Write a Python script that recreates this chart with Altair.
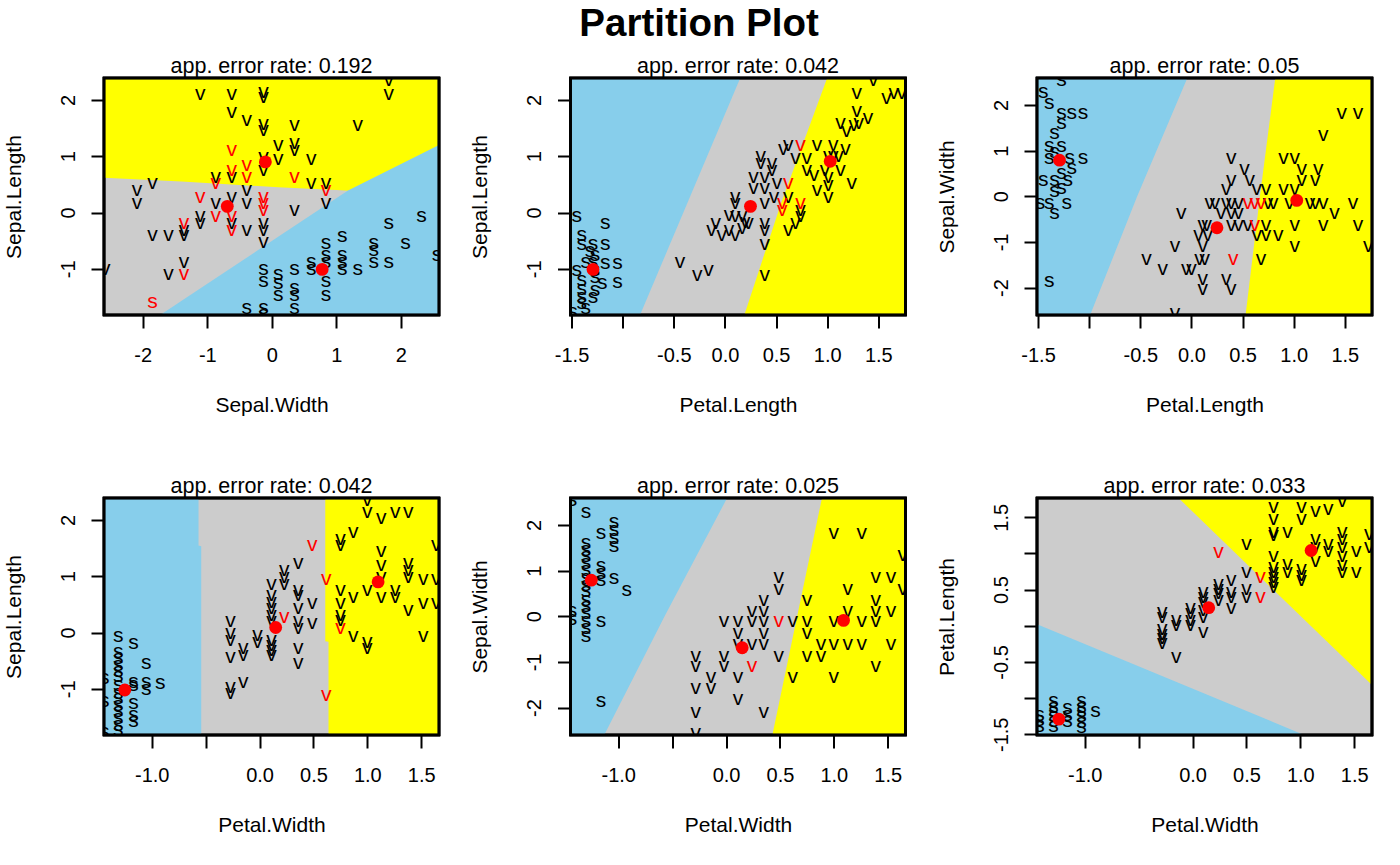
import altair as alt
import pandas as pd

FONT = "Liberation Sans"
SKY = "#87CEEB"
GREY = "#CCCCCC"
YEL = "#FFFF00"
RED = "#FF0000"

# ---------------- Panel 1 : Sepal.Width (x) vs Sepal.Length (y)
p1_s = [(-0.39,-1.69),(-0.13,-1.69),(-0.13,-1.81),(0.35,-1.69),(-0.13,-1.00),(-0.13,-1.22),(0.10,-1.10),
        (0.10,-1.25),(0.10,-1.46),(0.35,-1.00),(0.35,-1.34),(0.35,-1.46),(0.61,-0.87),(0.61,-1.00),
        (0.84,-0.54),(0.84,-0.75),(0.84,-0.87),(0.84,-1.22),(0.84,-1.46),(1.09,-0.41),(1.09,-0.75),
        (1.09,-0.87),(1.09,-1.00),(1.33,-1.00),(1.58,-0.54),(1.58,-0.66),(1.58,-0.87),(1.81,-0.19),
        (1.81,-0.87),(2.07,-0.54),(2.32,-0.07),(2.56,-0.75)]
p1_v = [(-1.11,2.11),(-0.62,2.11),(-0.13,2.14),(-0.13,2.05),(-0.62,1.79),(-0.39,1.65),(-0.13,1.58),
        (-0.13,1.46),(0.35,1.55),(1.33,1.55),(1.81,2.35),(1.81,2.11),(0.10,1.20),(0.35,1.23),(0.35,1.11),
        (0.61,0.96),(0.10,0.96),(-0.13,0.98),(-0.13,0.76),(-0.87,0.64),(-0.62,0.64),(0.61,0.52),(0.84,0.52),
        (0.35,0.05),(0.84,0.17),(-2.09,0.40),(-2.09,0.17),(-1.85,0.52),(-0.62,0.28),(-0.87,0.17),(-0.39,0.17),
        (-0.39,0.40),(-1.11,-0.07),(-1.11,-0.19),(-0.62,-0.19),(-0.39,-0.31),(-0.13,-0.19),(-0.13,-0.31),
        (-0.13,-0.53),(-1.85,-0.40),(-1.60,-0.40),(-1.36,-0.40),(-1.36,-0.31),(-1.36,-0.87),(-1.60,-1.10),
        (-2.58,-1.00)]
p1_s_err = [(-1.85,-1.59)]
p1_v_err = [(-0.62,1.11),(-0.62,0.76),(-0.39,0.84),(-0.39,0.64),(-0.87,0.52),(-1.11,0.28),(-0.87,-0.07),
            (-0.62,-0.07),(-0.62,-0.31),(-0.13,0.28),(-0.13,0.17),(-0.13,0.05),(0.35,0.64),(0.84,0.40),
            (-1.36,-0.19),(-1.36,-1.10)]
p1_centers = [(-0.10,0.90),(-0.69,0.11),(0.78,-1.01)]
p1_blue = [(-1.73,-1.82),(1.18,0.39),(2.59,1.20)]            # (x, upper edge of blue)
p1_yellow = [(-2.60,0.62),(-1.40,0.55),(0.10,0.45),(1.00,0.40),(2.59,0.30)]  # (x, lower edge of yellow)

# ---------------- Panel 2 : Petal.Length (x) vs Sepal.Length (y)
p2_s = [(-1.45,-0.07),(-1.17,-0.19),(-1.40,-0.40),(-1.40,-0.55),(-1.29,-0.55),(-1.17,-0.55),(-1.32,-0.69),
        (-1.27,-0.75),(-1.36,-0.87),(-1.29,-0.87),(-1.17,-0.89),(-1.05,-0.89),(-1.45,-1.02),(-1.27,-1.02),
        (-1.40,-1.20),(-1.27,-1.14),(-1.20,-1.26),(-1.05,-1.23),(-1.40,-1.35),(-1.27,-1.38),(-1.40,-1.50),
        (-1.29,-1.50),(-1.40,-1.61),(-1.36,-1.70),(-1.49,-1.76)]
p2_v = [(1.45,2.36),(1.29,2.12),(1.58,2.04),(1.65,2.12),(1.73,2.12),(1.29,1.80),(1.40,1.68),(1.13,1.59),
        (1.19,1.44),(1.26,1.56),(1.31,1.59),(0.57,1.12),(0.62,1.20),(0.90,1.20),(1.06,1.20),(1.18,1.12),
        (0.69,0.97),(0.80,0.97),(1.01,1.00),(1.06,1.00),(1.11,1.00),(0.35,1.00),(0.35,0.88),(0.46,0.88),
        (0.46,0.76),(0.80,0.76),(0.87,0.67),(0.98,0.76),(1.01,0.64),(1.13,0.76),(1.24,0.52),(1.01,0.49),
        (0.90,0.40),(1.01,0.28),(0.28,0.64),(0.39,0.64),(0.28,0.43),(0.39,0.43),(0.51,0.52),(0.48,0.28),
        (0.39,0.17),(0.62,0.28),(0.74,0.05),(0.74,-0.07),(0.10,0.28),(0.10,0.17),(0.04,-0.04),(0.10,-0.07),
        (0.17,-0.07),(0.20,-0.16),(0.23,-0.19),(0.17,-0.28),(-0.09,-0.19),(-0.13,-0.31),(-0.03,-0.40),
        (0.10,-0.40),(0.04,-0.31),(0.39,-0.19),(0.39,-0.31),(0.39,-0.55),(0.62,-0.31),(0.69,-0.19),
        (-0.44,-0.87),(-0.27,-1.11),(-0.16,-1.02),(0.39,-1.11)]
p2_s_err = []
p2_v_err = [(0.74,1.20),(0.62,0.52),(0.56,0.17),(0.56,0.05),(0.74,0.17)]
p2_centers = [(-1.29,-1.01),(0.25,0.11),(1.03,0.91)]
p2_blue = [(-1.82,-0.83),(2.39,0.15)]                  # (y, right edge of blue)
p2_yellow = [(-1.82,0.19),(0.17,0.55),(2.39,1.00)]     # (y, left edge of yellow)

# ---------------- Panel 3 : Petal.Length (x) vs Sepal.Width (y)
p3_s = [(-1.27,2.55),(-1.45,2.29),(-1.39,2.04),(-1.27,1.82),(-1.17,1.82),(-1.06,1.82),(-1.27,1.60),
        (-1.34,1.38),(-1.39,1.09),(-1.27,1.09),(-1.34,0.98),(-1.39,0.84),(-1.19,0.84),(-1.06,0.84),
        (-1.17,0.62),(-1.27,0.51),(-1.45,0.36),(-1.34,0.36),(-1.21,0.36),(-1.27,0.18),(-1.34,0.11),
        (-1.48,-0.15),(-1.39,-0.15),(-1.22,-0.15),(-1.34,-0.36),(-1.39,-1.86)]
p3_v = [(1.47,1.82),(1.63,1.82),(1.29,1.35),(0.90,0.84),(1.01,0.84),(1.08,0.60),(1.24,0.60),(1.08,0.36),
        (1.21,0.36),(0.39,0.84),(0.52,0.60),(0.39,0.36),(0.57,0.36),(0.34,0.15),(0.64,0.15),(0.73,0.15),
        (0.90,0.15),(1.01,0.15),(0.18,-0.15),(0.23,-0.15),(0.34,-0.15),(0.39,-0.15),(0.46,-0.15),
        (0.75,-0.15),(0.80,-0.15),(0.96,-0.15),(1.16,-0.15),(1.21,-0.15),(1.29,-0.15),(1.58,-0.15),
        (0.29,-0.36),(0.39,-0.36),(0.46,-0.36),(1.40,-0.36),(-0.10,-0.36),(0.11,-0.62),(0.15,-0.62),
        (0.39,-0.62),(0.46,-0.62),(0.55,-0.62),(0.73,-0.62),(1.01,-0.62),(1.29,-0.62),(1.63,-0.62),
        (0.07,-0.84),(0.16,-0.84),(0.64,-0.84),(0.73,-0.84),(0.85,-0.84),(-0.16,-1.09),(0.11,-1.09),
        (1.01,-1.09),(1.73,-1.09),(-0.44,-1.37),(0.08,-1.37),(0.13,-1.37),(0.68,-1.37),(-0.28,-1.60),
        (-0.05,-1.60),(0.00,-1.60),(0.11,-1.82),(0.34,-1.82),(0.11,-2.04),(0.39,-2.04),(-0.16,-2.55)]
p3_s_err = []
p3_v_err = [(0.55,-0.15),(0.62,-0.15),(0.68,-0.15),(0.62,-0.62),(0.41,-1.37)]
p3_centers = [(-1.29,0.79),(0.25,-0.69),(1.03,-0.09)]
p3_blue = [(-2.60,-0.99),(0.00,-0.53),(2.59,-0.04)]
p3_yellow = [(-2.60,0.53),(0.00,0.67),(2.59,0.82)]

# ---------------- Panel 4 : Petal.Width (x) vs Sepal.Length (y)
p4_s = [(-1.31,-0.07),(-1.17,-0.19),(-1.31,-0.34),(-1.31,-0.46),(-1.31,-0.57),(-1.05,-0.54),(-1.31,-0.69),
        (-1.31,-0.78),(-1.17,-0.87),(-1.05,-0.87),(-0.92,-0.90),(-1.05,-1.00),(-1.44,-0.81),(-1.31,-0.93),
        (-1.17,-0.93),(-1.31,-1.08),(-1.17,-1.25),(-1.31,-1.16),(-1.31,-1.28),(-1.31,-1.40),(-1.17,-1.46),
        (-1.31,-1.52),(-1.17,-1.58),(-1.31,-1.64),(-1.31,-1.73),(-1.44,-1.22),(-1.44,-1.76)]
p4_v = [(-0.27,0.20),(-0.27,-0.01),(-0.27,-0.13),(-0.27,-0.43),(-0.27,-0.96),(-0.27,-1.08),
        (-0.15,-0.28),(-0.15,-0.40),(-0.15,-0.87),(-0.02,-0.04),(-0.02,-0.16),
        (0.11,0.87),(0.11,0.67),(0.11,0.55),(0.11,0.43),(0.11,0.31),(0.11,0.20),(0.11,-0.13),(0.11,-0.22),
        (0.11,-0.31),(0.11,-0.40),(0.23,1.11),(0.23,0.99),(0.23,0.87),
        (0.36,1.23),(0.36,0.76),(0.36,0.67),(0.36,0.43),(0.36,0.20),(0.36,0.08),(0.36,-0.28),(0.36,-0.54),
        (0.49,0.52),(0.49,0.17),(0.75,1.67),(0.75,1.55),(0.75,0.76),(0.75,0.52),(0.75,0.31),(0.75,0.22),
        (0.87,1.79),(0.87,0.64),(0.87,-0.07),(1.00,2.35),(1.00,2.15),(1.00,0.76),(1.00,-0.16),(1.00,-0.28),
        (1.13,2.03),(1.13,1.44),(1.13,1.20),(1.13,0.99),(1.13,0.64),(1.26,2.15),(1.26,0.76),(1.26,0.64),
        (1.38,2.15),(1.38,1.23),(1.38,1.11),(1.38,0.99),(1.38,0.40),(1.52,0.96),(1.52,0.52),(1.52,-0.07),
        (1.64,1.55),(1.64,0.96),(1.64,0.52)]
p4_s_err = []
p4_v_err = [(0.49,1.55),(0.62,0.96),(0.62,-1.11),(0.23,0.28),(0.75,0.08)]
p4_centers = [(-1.25,-1.02),(0.15,0.09),(1.10,0.90)]
p4_blue = [(-1.82,-0.541),(1.535,-0.541),(1.545,-0.566),(2.39,-0.566)]
p4_yellow = [(-1.82,0.64),(-0.165,0.64),(-0.155,0.61),(2.39,0.61)]

# ---------------- Panel 5 : Petal.Width (x) vs Sepal.Width (y)
p5_s = [(-1.43,2.55),(-1.30,2.29),(-1.16,1.82),(-1.04,2.07),(-1.04,1.89),(-1.04,1.71),(-1.04,1.53),
        (-1.30,1.60),(-1.30,1.46),(-1.30,1.31),(-1.30,1.16),(-1.30,1.02),(-1.16,1.09),(-1.16,0.95),
        (-1.30,0.84),(-1.16,0.80),(-1.04,0.84),(-0.92,0.58),(-1.30,0.69),(-1.30,0.55),(-1.30,0.36),
        (-1.30,0.22),(-1.30,0.07),(-1.43,0.11),(-1.43,-0.07),(-1.30,-0.11),(-1.16,-0.11),(-1.30,-0.25),
        (-1.30,-0.44),(-1.16,-1.86)]
p5_v = [(1.00,1.82),(1.26,1.82),(1.64,1.35),(0.49,0.87),(0.49,0.60),(1.13,0.60),(1.39,0.85),(1.53,0.85),
        (1.64,0.60),(0.35,0.36),(0.75,0.36),(1.39,0.36),(0.24,0.12),(0.35,0.12),(1.13,0.12),(1.39,0.12),
        (1.53,0.12),(-0.02,-0.11),(0.11,-0.11),(0.24,-0.11),(0.35,-0.11),(0.62,-0.11),(0.75,-0.11),
        (1.00,-0.11),(1.26,-0.11),(1.39,-0.11),(0.11,-0.36),(0.35,-0.36),(0.75,-0.36),(0.11,-0.60),
        (0.24,-0.60),(0.35,-0.60),(0.88,-0.60),(1.00,-0.60),(1.13,-0.60),(1.26,-0.60),(1.53,-0.60),
        (-0.28,-0.87),(-0.02,-0.87),(0.49,-0.87),(0.75,-0.87),(0.88,-0.87),(-0.28,-1.09),(-0.02,-1.09),
        (1.39,-1.09),(-0.14,-1.33),(0.11,-1.33),(0.62,-1.33),(1.00,-1.33),(-0.28,-1.56),(-0.14,-1.56),
        (0.11,-1.82),(-0.28,-2.09),(0.35,-2.09),(-0.28,-2.55)]
p5_s_err = []
p5_v_err = [(0.49,-0.11),(0.24,-1.09)]
p5_centers = [(-1.25,0.79),(0.15,-0.69),(1.09,-0.09)]
p5_blue = [(-2.60,-1.13),(0.00,-0.57),(2.59,0.01)]
p5_yellow = [(-2.60,0.43),(0.00,0.66),(2.59,0.89)]

# ---------------- Panel 6 : Petal.Width (x) vs Petal.Length (y)
p6_s = [(-1.42,-1.23),(-1.42,-1.30),(-1.42,-1.39),(-1.29,-1.04),(-1.29,-1.12),(-1.29,-1.18),(-1.29,-1.25),
        (-1.29,-1.32),(-1.29,-1.39),(-1.16,-1.13),(-1.16,-1.23),(-1.16,-1.32),(-1.03,-1.04),(-1.03,-1.12),
        (-1.03,-1.18),(-1.03,-1.25),(-1.03,-1.33),(-1.03,-1.40),(-0.90,-1.18)]
p6_v = [(-0.28,0.19),(-0.28,0.12),(-0.28,-0.04),(-0.28,-0.11),(-0.28,-0.17),(-0.28,-0.24),
        (-0.15,0.08),(-0.15,0.01),(-0.15,-0.43),(-0.02,0.24),(-0.02,0.17),(-0.02,0.08),(-0.02,0.01),
        (0.10,0.47),(0.10,0.40),(0.10,0.33),(0.10,0.22),(0.10,0.12),(0.10,-0.08),
        (0.24,0.58),(0.24,0.51),(0.24,0.45),(0.24,0.35),(0.36,0.63),(0.36,0.47),(0.36,0.40),(0.36,0.24),
        (0.50,1.13),(0.50,0.74),(0.50,0.51),(0.50,0.40),
        (0.75,1.64),(0.75,1.48),(0.75,1.29),(0.75,1.25),(0.75,0.97),(0.75,0.81),(0.75,0.74),(0.75,0.67),
        (0.75,0.61),(0.75,0.54),(0.88,1.29),(0.88,0.86),(0.88,0.74),(1.01,1.64),(1.01,1.48),(1.01,0.79),
        (1.01,0.70),(1.01,0.63),(1.14,1.58),(1.14,1.20),(1.14,1.09),(1.14,0.90),(1.26,1.62),(1.26,1.13),
        (1.26,1.04),(1.39,1.73),(1.39,1.29),(1.39,1.20),(1.39,1.09),(1.39,0.97),(1.39,0.84),(1.39,0.74),
        (1.52,1.04),(1.52,0.74),(1.64,1.27),(1.64,1.09)]
p6_s_err = []
p6_v_err = [(0.24,1.02),(0.63,0.67),(0.63,0.40)]
p6_centers = [(-1.24,-1.29),(0.15,0.25),(1.10,1.04)]
p6_blue = [(-1.443,0.02),(1.03,-1.505)]      # (x, upper edge of blue)
p6_yellow = [(-0.13,1.766),(1.665,-0.82)]    # (x, lower edge of yellow)

# axis domains and ticks
SL_DOM = [-1.82, 2.39]
SW_DOM = [-2.60, 2.59]
PL_DOM = [-1.51, 1.766]
PW_DOM = [-1.443, 1.665]
TICKS_INT_SL = [-1, 0, 1, 2]
TICKS_INT_SW = [-2, -1, 0, 1, 2]
TICKS_PL = [-1.5, -1.0, -0.5, 0.0, 0.5, 1.0, 1.5]
TICKS_PW = [-1.0, -0.5, 0.0, 0.5, 1.0, 1.5]


def label_expr(fmt, hide):
    base = f"replace(format(datum.value, '{fmt}'), '\u2212', '-')"
    if hide:
        cond = " || ".join(f"abs(datum.value - ({h})) < 1e-9" for h in hide)
        return f"({cond}) ? '' : {base}"
    return base


def x_axis(title, ticks, expr):
    return alt.Axis(title=title, values=ticks, labelExpr=expr, grid=False, domain=False,
                    tickSize=13, tickWidth=2, tickColor="black",
                    labelFont=FONT, labelFontSize=20, labelColor="black",
                    labelBaseline="alphabetic", labelAlign="center", labelPadding=33,
                    labelOverlap=False, labelFlush=False,
                    titleFont=FONT, titleFontSize=21, titleFontWeight="normal",
                    titleColor="black", titleBaseline="alphabetic", titleY=96)


def y_axis(title, ticks, expr):
    return alt.Axis(title=title, values=ticks, labelExpr=expr, grid=False, domain=False,
                    tickSize=13, tickWidth=2, tickColor="black",
                    labelFont=FONT, labelFontSize=20, labelColor="black", labelAngle=270,
                    labelBaseline="alphabetic", labelAlign="center", labelPadding=17,
                    labelOverlap=False, labelFlush=False,
                    titleFont=FONT, titleFontSize=21, titleFontWeight="normal",
                    titleColor="black", titleAngle=270, titleBaseline="alphabetic",
                    titleAlign="center", titleX=-84)


def panel(err, xt, yt, xdom, ydom, xticks, yticks, xfmt, yfmt, xhide, yhide,
          s, v, s_err, v_err, centers, blue, yellow, orient):
    xs = alt.Scale(domain=xdom, nice=False, zero=False)
    ys = alt.Scale(domain=ydom, nice=False, zero=False)
    xa = x_axis(xt, xticks, label_expr(xfmt, xhide))
    ya = y_axis(yt, yticks, label_expr(yfmt, yhide))
    X = alt.X("x:Q", scale=xs, axis=xa)
    Y = alt.Y("y:Q", scale=ys, axis=ya)
    if orient == "vertical":
        bdf = pd.DataFrame(blue, columns=["x", "y"])
        ydf = pd.DataFrame(yellow, columns=["x", "y"])
        blue_l = alt.Chart(bdf).mark_area(color=SKY, opacity=1, clip=True).encode(
            x=X, y=Y, y2=alt.datum(ydom[0]))
        yel_l = alt.Chart(ydf).mark_area(color=YEL, opacity=1, clip=True).encode(
            x=X, y=Y, y2=alt.datum(ydom[1]))
        layers = [yel_l, blue_l]
    else:
        bdf = pd.DataFrame(blue, columns=["y", "x"])
        ydf = pd.DataFrame(yellow, columns=["y", "x"])
        blue_l = alt.Chart(bdf).mark_area(color=SKY, opacity=1, clip=True,
                                          orient="horizontal").encode(
            x=X, x2=alt.datum(xdom[0]), y=Y)
        yel_l = alt.Chart(ydf).mark_area(color=YEL, opacity=1, clip=True,
                                         orient="horizontal").encode(
            x=X, x2=alt.datum(xdom[1]), y=Y)
        layers = [blue_l, yel_l]
    rows = ([(a, b, "s", "black") for a, b in s] + [(a, b, "v", "black") for a, b in v] +
            [(a, b, "s", RED) for a, b in s_err] + [(a, b, "v", RED) for a, b in v_err])
    tdf = pd.DataFrame(rows, columns=["x", "y", "lab", "col"])
    txt = alt.Chart(tdf).mark_text(font=FONT, fontSize=21, baseline="middle",
                                   align="center", clip=True).encode(
        x=X, y=Y, text="lab:N", color=alt.Color("col:N", scale=None))
    cdf = pd.DataFrame(centers, columns=["x", "y"])
    cen = alt.Chart(cdf).mark_circle(size=165, color=RED, opacity=1, clip=True).encode(x=X, y=Y)
    box = alt.Chart(cdf).mark_rect(fillOpacity=0, stroke="black", strokeWidth=2.5).encode(
        x=alt.X(datum=xdom[0], type="quantitative", scale=xs, axis=xa),
        x2=alt.datum(xdom[1]),
        y=alt.Y(datum=ydom[0], type="quantitative", scale=ys, axis=ya),
        y2=alt.datum(ydom[1]))
    return alt.layer(*layers, txt, cen, box).properties(
        width=335, height=237,
        title=alt.TitleParams(f"app. error rate: {err}", font=FONT, fontSize=21.5,
                              fontWeight="normal", color="black", baseline="alphabetic",
                              offset=-18, frame="group", anchor="middle"))


c1 = panel("0.192", "Sepal.Width", "Sepal.Length", SW_DOM, SL_DOM, TICKS_INT_SW, TICKS_INT_SL,
           "d", "d", [], [], p1_s, p1_v, p1_s_err, p1_v_err, p1_centers, p1_blue, p1_yellow, "vertical")
c2 = panel("0.042", "Petal.Length", "Sepal.Length", PL_DOM, SL_DOM, TICKS_PL, TICKS_INT_SL,
           ".1f", "d", [-1.0], [], p2_s, p2_v, p2_s_err, p2_v_err, p2_centers, p2_blue, p2_yellow,
           "horizontal")
c3 = panel("0.05", "Petal.Length", "Sepal.Width", PL_DOM, SW_DOM, TICKS_PL, TICKS_INT_SW,
           ".1f", "d", [-1.0], [], p3_s, p3_v, p3_s_err, p3_v_err, p3_centers, p3_blue, p3_yellow,
           "horizontal")
c4 = panel("0.042", "Petal.Width", "Sepal.Length", PW_DOM, SL_DOM, TICKS_PW, TICKS_INT_SL,
           ".1f", "d", [-0.5], [], p4_s, p4_v, p4_s_err, p4_v_err, p4_centers, p4_blue, p4_yellow,
           "horizontal")
c5 = panel("0.025", "Petal.Width", "Sepal.Width", PW_DOM, SW_DOM, TICKS_PW, TICKS_INT_SW,
           ".1f", "d", [-0.5], [], p5_s, p5_v, p5_s_err, p5_v_err, p5_centers, p5_blue, p5_yellow,
           "horizontal")
c6 = panel("0.033", "Petal.Width", "Petal.Length", PW_DOM, PL_DOM, TICKS_PW, TICKS_PL,
           ".1f", ".1f", [-0.5], [-1.0, 0.0, 1.0], p6_s, p6_v, p6_s_err, p6_v_err, p6_centers,
           p6_blue, p6_yellow, "vertical")

chart = alt.concat(c1, c2, c3, c4, c5, c6, columns=3,
                   spacing={"row": 183, "column": 131.5}, bounds="flush").properties(
    title=alt.TitleParams("Partition Plot", font=FONT, fontSize=38.5, fontWeight="bold",
                          color="black", anchor="middle", baseline="alphabetic",
                          offset=-19, frame="bounds", dx=11),
    padding={"left": 1, "top": 4, "right": 5, "bottom": 5},
    background="white",
).configure_view(stroke="black", strokeWidth=2.5, fill=GREY)

chart.save("out.html", embed_options={"renderer": "svg", "actions": False})
